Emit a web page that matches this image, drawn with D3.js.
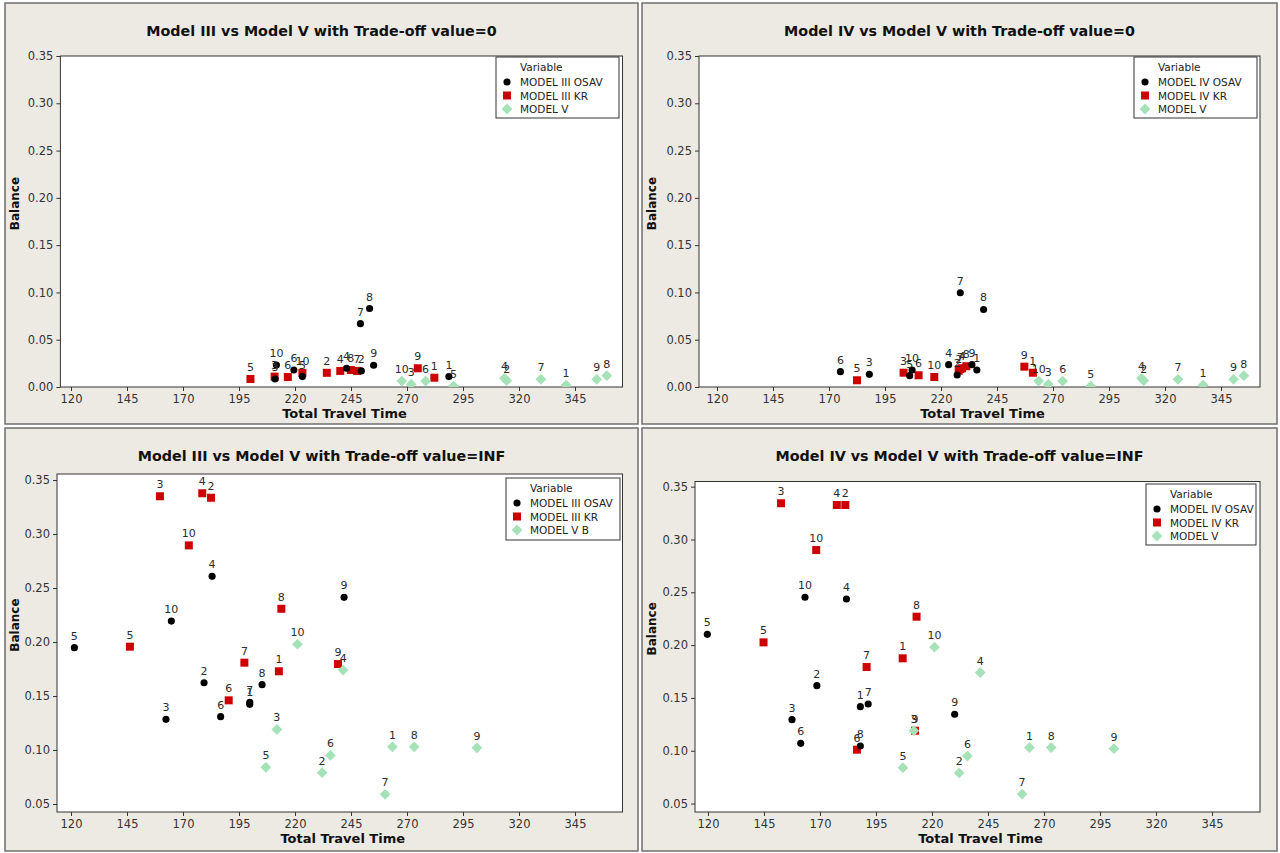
<!DOCTYPE html>
<html><head><meta charset="utf-8">
<script src="https://cdn.jsdelivr.net/npm/d3@7"></script>
<style>
html,body{margin:0;padding:0;background:#fff;}
svg{display:block;}
</style>
</head><body>
<svg id="chart" width="1280" height="853"></svg>
<script>
// ---------- data ----------
const pointLabels = ["1","2","3","4","5","6","7","8","9","10"];
const xTicks = [120,145,170,195,220,245,270,295,320,345];
const yTicksTop = [0.00,0.05,0.10,0.15,0.20,0.25,0.30,0.35];
const yTicksBottom = [0.05,0.10,0.15,0.20,0.25,0.30,0.35];

// Trade-off = 0, Model III panel
const osav3_t0_x = [288.7,249.6,211.1,243.0,223.3,219.5,249.2,253.3,255.1,211.7];
const osav3_t0_y = [0.011,0.017,0.0085,0.0198,0.011,0.018,0.067,0.083,0.023,0.0233];
const kr3_t0_x = [282.2,234.2,210.9,240.2,200.1,216.8,247.7,244.9,274.8,223.3];
const kr3_t0_y = [0.0098,0.015,0.011,0.017,0.0085,0.0106,0.017,0.018,0.0198,0.015];
const modelV_t0_III_x = [341.0,314.5,271.9,313.5,290.8,278.3,329.8,359.2,354.7,267.7];
const modelV_t0_III_y = [0.002,0.0067,0.003,0.0092,0.001,0.0063,0.0081,0.012,0.0081,0.0063];
// Trade-off = 0, Model IV panel
const osav4_t0_x = [236.0,227.2,188.0,223.4,206.0,175.1,228.6,239.0,233.8,207.1];
const osav4_t0_y = [0.018,0.0127,0.0134,0.0236,0.012,0.0162,0.0997,0.082,0.0236,0.018];
const kr4_t0_x = [261.0,227.9,203.3,229.4,182.5,210.0,228.6,231.3,257.2,217.0];
const kr4_t0_y = [0.0151,0.0172,0.0151,0.0198,0.0071,0.0124,0.019,0.022,0.0215,0.0106];
const modelV_t0_IV_x = [337.0,310.5,267.9,309.5,286.8,274.3,325.8,355.2,350.6,263.6];
const modelV_t0_IV_y = [0.002,0.0067,0.003,0.0092,0.001,0.0063,0.0081,0.012,0.0081,0.0063];

// Trade-off = INF
const osav3_inf_x = [199.8,179.4,162.4,183.0,121.5,186.8,199.8,205.3,241.9,164.8];
const osav3_inf_y = [0.1423,0.1623,0.1284,0.2608,0.1948,0.1309,0.1442,0.1605,0.2414,0.2194];
const kr3_inf_x = [212.8,182.5,159.7,178.6,146.3,190.4,197.4,213.9,239.2,172.6];
const kr3_inf_y = [0.1729,0.3336,0.335,0.3377,0.1957,0.146,0.1809,0.2308,0.1796,0.2895];
const osav4_inf_x = [188.0,168.6,157.5,181.8,119.7,161.4,191.5,188.0,230.1,163.3];
const osav4_inf_y = [0.1417,0.1616,0.1294,0.2437,0.2102,0.107,0.1442,0.1045,0.1345,0.2453];
const kr4_inf_x = [206.9,181.3,152.6,177.5,144.8,186.5,190.8,213.1,212.4,168.3];
const kr4_inf_y = [0.1875,0.3327,0.3343,0.3327,0.2026,0.101,0.1793,0.2269,0.119,0.290];
const modelV_inf_x = [263.5,232.1,211.9,241.5,207.0,235.8,260.2,273.2,301.2,221.1];
const modelV_inf_y = [0.103,0.079,0.119,0.174,0.084,0.095,0.059,0.103,0.102,0.198];

// ---------- styles ----------
const COL_OSAV = "#000000", COL_KR = "#CC0000", COL_V = "#A6E2B8";
const PANEL_BG = "#EDEAE4";
const FONT = "'DejaVu Sans', Verdana, sans-serif";

const zip = (xs, ys) => xs.map((x,i)=>({x, y: ys[i], label: pointLabels[i]}));

const panels = [
  {px:5, py:3, w:633, h:421, title:"Model III vs Model V with Trade-off value=0",
   plot:{l:60.4, r:622.5, t:56, b:387}, xDom:[115.27,366.2], yDom:[0,0.35], yTicks:yTicksTop,
   legend:{x:496, y:57, w:123, h:61},
   series:[
     {name:"MODEL III KR", type:"square", color:COL_KR, data:zip(kr3_t0_x,kr3_t0_y)},
     {name:"MODEL III OSAV", type:"circle", color:COL_OSAV, data:zip(osav3_t0_x,osav3_t0_y)},
     {name:"MODEL V", type:"diamond", color:COL_V, data:zip(modelV_t0_III_x,modelV_t0_III_y)}]},
  {px:642, py:3, w:635, h:421, title:"Model IV vs Model V with Trade-off value=0",
   plot:{l:699, r:1260, t:56, b:387}, xDom:[111.96,362.4], yDom:[0,0.35], yTicks:yTicksTop,
   legend:{x:1134, y:57, w:123, h:61},
   series:[
     {name:"MODEL IV KR", type:"square", color:COL_KR, data:zip(kr4_t0_x,kr4_t0_y)},
     {name:"MODEL IV OSAV", type:"circle", color:COL_OSAV, data:zip(osav4_t0_x,osav4_t0_y)},
     {name:"MODEL V", type:"diamond", color:COL_V, data:zip(modelV_t0_IV_x,modelV_t0_IV_y)}]},
  {px:5, py:428, w:633, h:423, title:"Model III vs Model V with Trade-off value=INF",
   plot:{l:57, r:622.5, t:474, b:812}, xDom:[113.75,366.2], yDom:[0.0426,0.3556], yTicks:yTicksBottom,
   legend:{x:506, y:478, w:114, h:62},
   series:[
     {name:"MODEL III KR", type:"square", color:COL_KR, data:zip(kr3_inf_x,kr3_inf_y)},
     {name:"MODEL III OSAV", type:"circle", color:COL_OSAV, data:zip(osav3_inf_x,osav3_inf_y)},
     {name:"MODEL V B", type:"diamond", color:COL_V, data:zip(modelV_inf_x,modelV_inf_y)}]},
  {px:642, py:428, w:635, h:423, title:"Model IV vs Model V with Trade-off value=INF",
   plot:{l:695, r:1260, t:481.5, b:812}, xDom:[114.2,366.4], yDom:[0.042,0.3549], yTicks:yTicksBottom,
   legend:{x:1146, y:484, w:110, h:61},
   series:[
     {name:"MODEL IV KR", type:"square", color:COL_KR, data:zip(kr4_inf_x,kr4_inf_y)},
     {name:"MODEL IV OSAV", type:"circle", color:COL_OSAV, data:zip(osav4_inf_x,osav4_inf_y)},
     {name:"MODEL V", type:"diamond", color:COL_V, data:zip(modelV_inf_x,modelV_inf_y)}]}
];
const legendOrder = [1,0,2]; // OSAV, KR, V

const svg = d3.select("#chart");

function symbolPath(type){
  if(type==="circle") return d3.symbol(d3.symbolCircle, 40)();
  if(type==="square") return d3.symbol(d3.symbolSquare, 64)();
  return d3.symbol(d3.symbolSquare, 58)();
}
function symbolTransform(type, x, y){
  return type==="diamond" ? `translate(${x},${y}) rotate(45)` : `translate(${x},${y})`;
}

panels.forEach((p, pi) => {
  const g = svg.append("g");
  g.append("rect").attr("x",p.px).attr("y",p.py).attr("width",p.w).attr("height",p.h)
    .attr("fill",PANEL_BG).attr("stroke","#6e6e6e").attr("stroke-width",1.5);

  const x = d3.scaleLinear().domain(p.xDom).range([p.plot.l, p.plot.r]);
  const y = d3.scaleLinear().domain(p.yDom).range([p.plot.b, p.plot.t]);

  g.append("rect").attr("x",p.plot.l).attr("y",p.plot.t)
    .attr("width",p.plot.r-p.plot.l).attr("height",p.plot.b-p.plot.t)
    .attr("fill","#fff");

  const clipId = "clip"+pi;
  g.append("clipPath").attr("id",clipId).append("rect")
    .attr("x",p.plot.l).attr("y",p.plot.t)
    .attr("width",p.plot.r-p.plot.l).attr("height",p.plot.b-p.plot.t);

  // axes
  const xAxis = d3.axisBottom(x).tickValues(xTicks).tickSize(4).tickSizeOuter(0).tickPadding(4);
  const yAxis = d3.axisLeft(y).tickValues(p.yTicks).tickSize(4).tickSizeOuter(0).tickPadding(3)
    .tickFormat(d3.format(".2f"));
  const gx = g.append("g").attr("transform",`translate(0,${p.plot.b})`).call(xAxis);
  const gy = g.append("g").attr("transform",`translate(${p.plot.l},0)`).call(yAxis);
  [gx,gy].forEach(a=>{
    a.select(".domain").remove();
    a.selectAll("line").attr("stroke","#333");
    a.selectAll("text").attr("fill","#333").style("font-family",FONT).style("font-size","11.5px");
  });

  // frame
  g.append("rect").attr("x",p.plot.l).attr("y",p.plot.t)
    .attr("width",p.plot.r-p.plot.l).attr("height",p.plot.b-p.plot.t)
    .attr("fill","none").attr("stroke","#333").attr("stroke-width",1);

  // points
  const pts = g.append("g").attr("clip-path",`url(#${clipId})`);
  p.series.forEach(s=>{
    pts.selectAll(null).data(s.data).join("path")
      .attr("d", symbolPath(s.type))
      .attr("transform", d=>symbolTransform(s.type, x(d.x), y(d.y)))
      .attr("fill", s.color);
  });
  p.series.forEach(s=>{
    g.selectAll(null).data(s.data).join("text")
      .attr("x", d=>x(d.x)).attr("y", d=>y(d.y)-8)
      .attr("text-anchor","middle")
      .attr("fill","#2b2b2b")
      .style("font-family",FONT).style("font-size","11px")
      .text(d=>d.label);
  });

  // title (centered on panel)
  const pcx = p.px + p.w/2;
  const cx = (p.plot.l + p.plot.r)/2;
  g.append("text").attr("x",pcx).attr("y",p.py+33).attr("text-anchor","middle")
    .style("font-family",FONT).style("font-weight","bold").style("font-size","14.3px")
    .attr("fill","#111").text(p.title);
  // axis titles
  g.append("text").attr("x",cx+3).attr("y",p.plot.b+31).attr("text-anchor","middle")
    .style("font-family",FONT).style("font-weight","bold").style("font-size","13px")
    .attr("fill","#111").text("Total Travel Time");
  g.append("text")
    .attr("transform",`translate(${p.px+14},${(p.plot.t+p.plot.b)/2-18}) rotate(-90)`)
    .attr("text-anchor","middle")
    .style("font-family",FONT).style("font-weight","bold").style("font-size","12px")
    .attr("fill","#111").text("Balance");

  // legend
  const L = p.legend;
  const lg = g.append("g");
  lg.append("rect").attr("x",L.x).attr("y",L.y).attr("width",L.w).attr("height",L.h)
    .attr("fill","#fff").attr("stroke","#333").attr("stroke-width",1);
  lg.append("text").attr("x",L.x+24).attr("y",L.y+14)
    .style("font-family",FONT).style("font-size","10.5px").attr("fill","#222").text("Variable");
  legendOrder.forEach((si,k)=>{
    const s = p.series[si];
    const ly = L.y + 25 + k*13.5;
    lg.append("path").attr("d",symbolPath(s.type))
      .attr("transform", symbolTransform(s.type, L.x+11, ly))
      .attr("fill", s.color);
    lg.append("text").attr("x",L.x+24).attr("y",ly+4)
      .style("font-family",FONT).style("font-size","10.5px").attr("fill","#222").text(s.name);
  });
});
</script>
</body></html>
